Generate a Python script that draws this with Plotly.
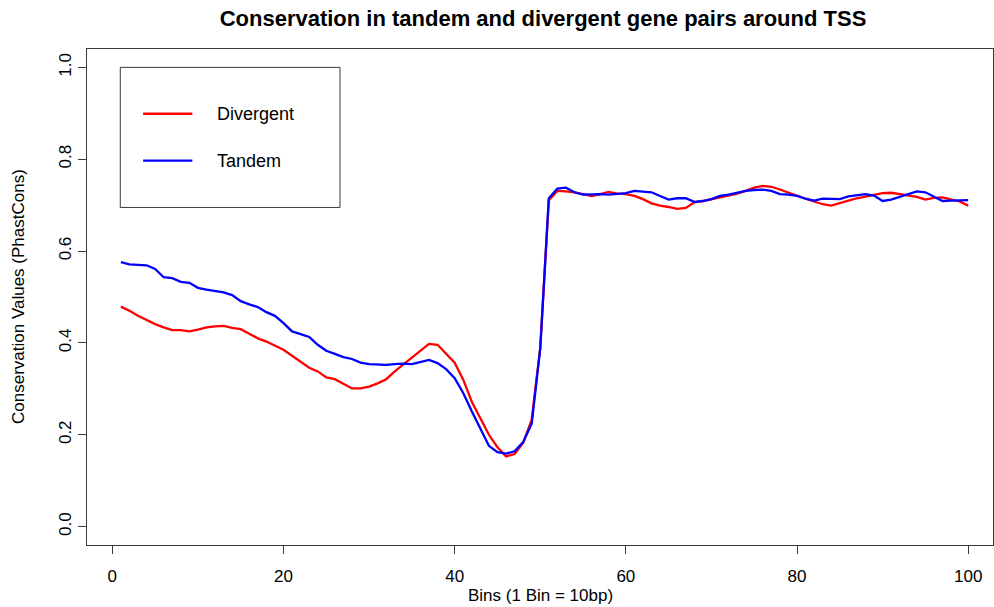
import plotly.graph_objects as go

# Mean PhastCons conservation per 10bp bin around the TSS
bins = list(range(1, 101))

divergent = [
    0.479, 0.470, 0.459, 0.450, 0.441, 0.434, 0.428, 0.428, 0.425, 0.429,
    0.434, 0.436, 0.437, 0.433, 0.430, 0.420, 0.410, 0.403, 0.394, 0.385,
    0.372, 0.358, 0.346, 0.338, 0.325, 0.321, 0.311, 0.301, 0.301, 0.305,
    0.312, 0.321, 0.338, 0.353, 0.368, 0.383, 0.398, 0.396, 0.376, 0.357,
    0.320, 0.272, 0.236, 0.200, 0.173, 0.153, 0.158, 0.182, 0.233, 0.390,
    0.711, 0.731, 0.730, 0.728, 0.724, 0.720, 0.724, 0.729, 0.725, 0.724,
    0.720, 0.713, 0.704, 0.699, 0.696, 0.692, 0.694, 0.706, 0.709, 0.713,
    0.717, 0.722, 0.725, 0.731, 0.738, 0.742, 0.740, 0.734, 0.727, 0.720,
    0.714, 0.708, 0.702, 0.699, 0.705, 0.710, 0.715, 0.719, 0.722, 0.726,
    0.727, 0.724, 0.721, 0.718, 0.712, 0.716, 0.717, 0.713, 0.708, 0.699,
]

tandem = [
    0.576, 0.571, 0.570, 0.569, 0.561, 0.543, 0.541, 0.533, 0.531, 0.520,
    0.516, 0.513, 0.510, 0.504, 0.491, 0.484, 0.478, 0.467, 0.459, 0.443,
    0.425, 0.419, 0.413, 0.396, 0.383, 0.376, 0.369, 0.365, 0.357, 0.354,
    0.353, 0.352, 0.354, 0.355, 0.354, 0.359, 0.363, 0.356, 0.343, 0.323,
    0.291, 0.251, 0.212, 0.176, 0.162, 0.159, 0.164, 0.184, 0.224, 0.388,
    0.715, 0.736, 0.738, 0.728, 0.723, 0.724, 0.724, 0.723, 0.725, 0.726,
    0.731, 0.729, 0.728, 0.720, 0.712, 0.715, 0.715, 0.707, 0.709, 0.713,
    0.720, 0.723, 0.727, 0.731, 0.733, 0.734, 0.731, 0.724, 0.723, 0.720,
    0.714, 0.710, 0.714, 0.713, 0.713, 0.719, 0.722, 0.724, 0.721, 0.709,
    0.712, 0.718, 0.725, 0.730, 0.728, 0.718, 0.709, 0.710, 0.711, 0.711,
]

series_names = ["Divergent", "Tandem"]
series_colors = ["#ff0000", "#0000ff"]

x_ticks = [0, 20, 40, 60, 80, 100]
y_ticks = [0.0, 0.2, 0.4, 0.6, 0.8, 1.0]
y_tick_text = ["0.0", "0.2", "0.4", "0.6", "0.8", "1.0"]

FONT = "Liberation Sans, Arial, Helvetica, sans-serif"
AXIS_COLOR = "#3a3a3a"

fig = go.Figure()
for name, values, color in zip(series_names, [divergent, tandem], series_colors):
    fig.add_trace(go.Scatter(
        x=bins, y=values, mode="lines", name=name,
        line=dict(color=color, width=2.3), showlegend=False,
    ))

# Boxed legend placed in data coordinates at the top-left of the panel
leg_x0, leg_x1, leg_y0, leg_y1 = 0.93, 26.6, 0.695, 1.0
key_x0, key_x1, text_x = 3.6, 9.35, 12.0
key_ys = [0.899, 0.797]

shapes = [dict(type="rect", xref="x", yref="y", x0=leg_x0, x1=leg_x1,
               y0=leg_y0, y1=leg_y1, line=dict(color=AXIS_COLOR, width=1),
               fillcolor="rgba(0,0,0,0)")]
annotations = []
for name, color, ky in zip(series_names, series_colors, key_ys):
    shapes.append(dict(type="line", xref="x", yref="y", x0=key_x0, x1=key_x1,
                       y0=ky, y1=ky, line=dict(color=color, width=2.3)))
    annotations.append(dict(x=text_x, y=ky, xref="x", yref="y", text=name,
                            showarrow=False, xanchor="left", yanchor="middle",
                            font=dict(family=FONT, size=18, color="#000000")))

# Axis titles
annotations.append(dict(x=0.5, y=0, xref="paper", yref="paper",
                        text="Bins (1 Bin = 10bp)", showarrow=False,
                        xanchor="center", yanchor="middle", yshift=-50,
                        font=dict(family=FONT, size=17, color="#000000")))
annotations.append(dict(x=0, y=0.5, xref="paper", yref="paper",
                        text="Conservation Values (PhastCons)", showarrow=False,
                        textangle=-90, xanchor="center", yanchor="middle",
                        xshift=-69,
                        font=dict(family=FONT, size=17, color="#000000")))

fig.update_layout(
    width=994, height=607,
    margin=dict(l=87, r=1, t=49, b=62),
    paper_bgcolor="white", plot_bgcolor="white",
    title=dict(text="<b>Conservation in tandem and divergent gene pairs around TSS</b>",
               x=543 / 994, xanchor="center", y=1 - 18 / 607, yanchor="middle",
               yref="container", xref="container",
               font=dict(family=FONT, size=22, color="#000000")),
    shapes=shapes, annotations=annotations,
)

fig.update_xaxes(
    range=[-2.96, 102.9], tickvals=x_ticks, ticks="outside", ticklen=8,
    tickcolor=AXIS_COLOR, showline=True, linecolor=AXIS_COLOR, linewidth=1,
    mirror=True, showgrid=False, zeroline=False, ticklabelstandoff=8,
    tickfont=dict(family=FONT, size=17, color="#000000"),
)
fig.update_yaxes(
    range=[-0.04, 1.04], tickvals=y_ticks, ticktext=y_tick_text,
    ticks="outside", ticklen=8, tickcolor=AXIS_COLOR, tickangle=-90,
    showline=True, linecolor=AXIS_COLOR, linewidth=1, mirror=True,
    showgrid=False, zeroline=False,
    tickfont=dict(family=FONT, size=17, color="#000000"),
)

fig.write_html("out.html")
